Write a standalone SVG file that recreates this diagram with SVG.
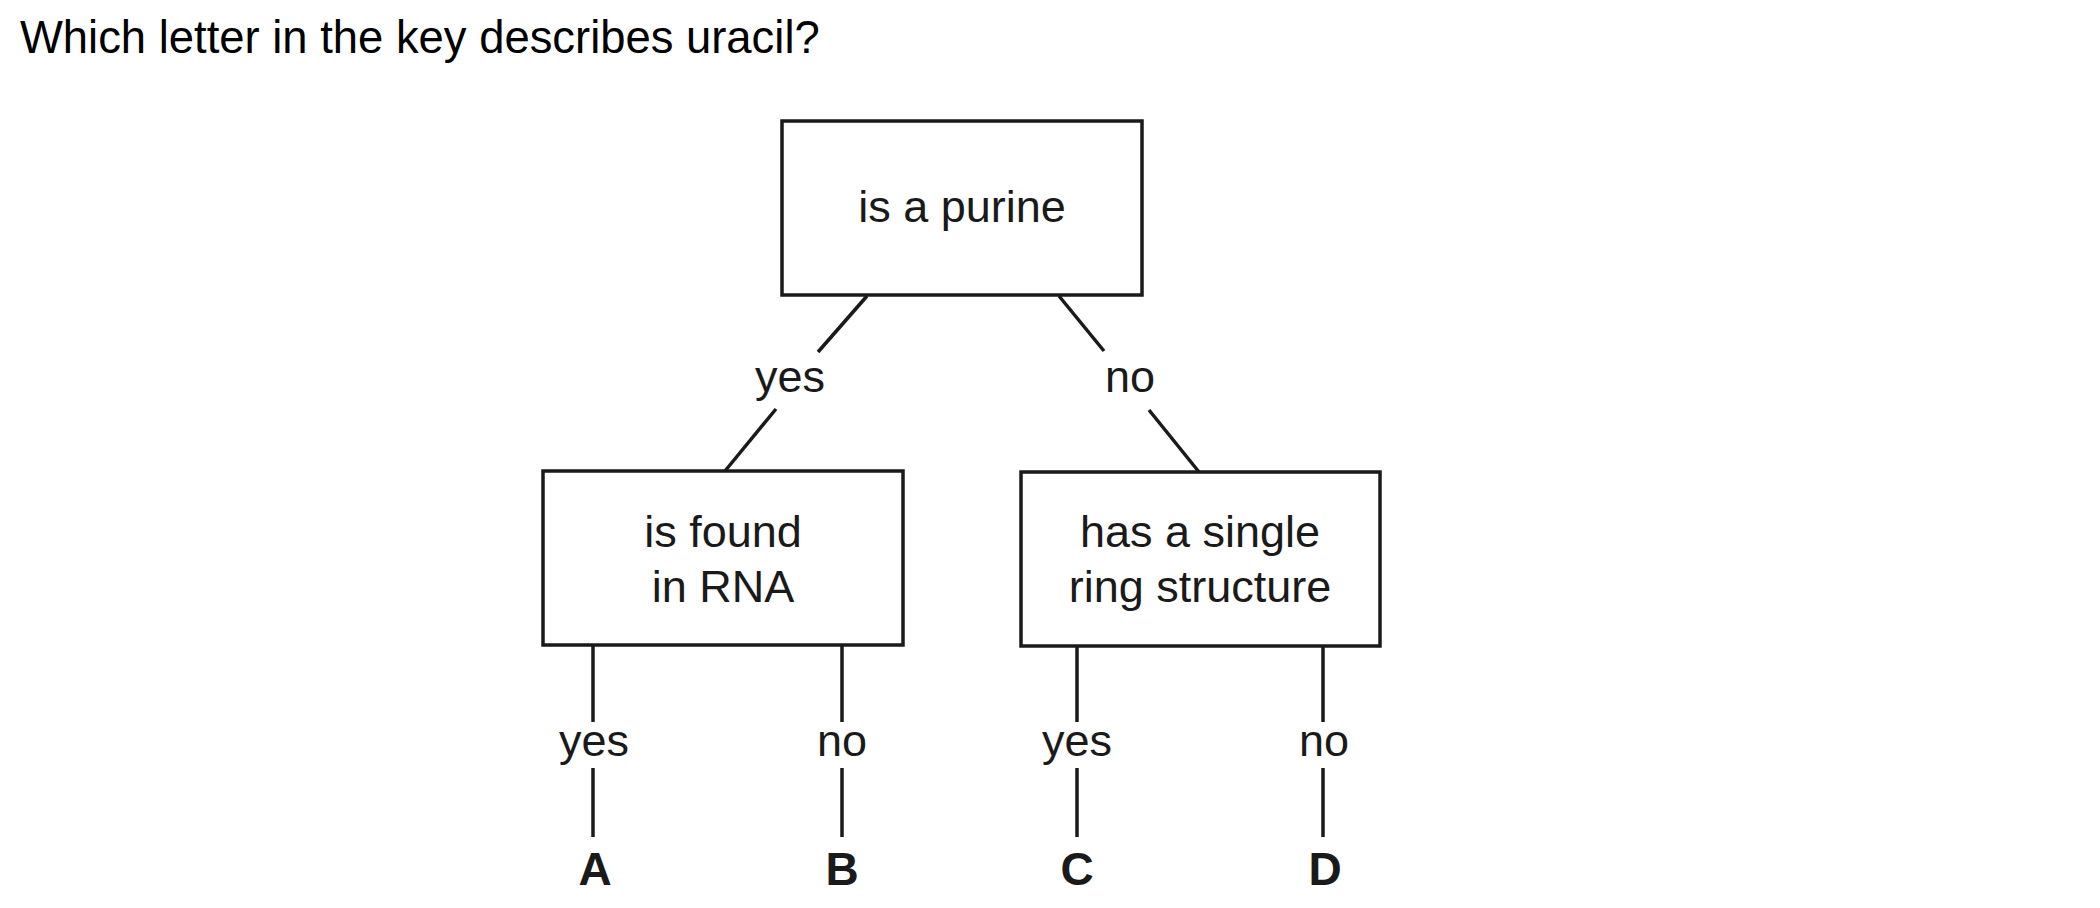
<svg xmlns="http://www.w3.org/2000/svg" width="2100" height="908" viewBox="0 0 2100 908">
<style>
text{font-family:"Liberation Sans",Arial,sans-serif;font-size:45px;fill:#1a1a1a}
.c{text-anchor:middle}
.b{font-weight:bold;font-size:46px}
.t{font-size:45.4px;fill:#000}
.box{fill:none;stroke:#1a1a1a;stroke-width:3.5}
.ln{stroke:#1a1a1a;stroke-width:3.5;fill:none}
</style>
<rect width="2100" height="908" fill="#fff"/>
<text id="title" class="t" x="20" y="53">Which letter in the key describes uracil?</text>
<g id="connectors">
<line class="ln" x1="867" y1="296" x2="818" y2="352"/>
<line class="ln" x1="776" y1="409" x2="725" y2="471"/>
<line class="ln" x1="1059" y1="296" x2="1104" y2="351"/>
<line class="ln" x1="1149" y1="410" x2="1199" y2="472"/>
<line class="ln" x1="593" y1="645" x2="593" y2="722"/>
<line class="ln" x1="593" y1="768" x2="593" y2="837"/>
<line class="ln" x1="842" y1="645" x2="842" y2="722"/>
<line class="ln" x1="842" y1="768" x2="842" y2="837"/>
<line class="ln" x1="1077" y1="646" x2="1077" y2="722"/>
<line class="ln" x1="1077" y1="768" x2="1077" y2="837"/>
<line class="ln" x1="1323" y1="646" x2="1323" y2="722"/>
<line class="ln" x1="1323" y1="768" x2="1323" y2="837"/>
<text class="c" x="790" y="392">yes</text>
<text class="c" x="1130" y="392">no</text>
<text class="c" x="594" y="756">yes</text>
<text class="c" x="842" y="756">no</text>
<text class="c" x="1077" y="756">yes</text>
<text class="c" x="1324" y="756">no</text>
</g>
<g id="n-purine">
<rect class="box" x="782" y="121" width="360" height="174"/>
<text class="c" x="962" y="222">is a purine</text>
</g>
<g id="n-rna">
<rect class="box" x="543" y="471" width="360" height="174"/>
<text class="c" x="723" y="547">is found</text>
<text class="c" x="723" y="602">in RNA</text>
</g>
<g id="n-ring">
<rect class="box" x="1021" y="472" width="359" height="174"/>
<text class="c" x="1200" y="547">has a single</text>
<text class="c" x="1200" y="602">ring structure</text>
</g>
<g id="n-A"><text class="c b" x="595" y="885">A</text></g>
<g id="n-B"><text class="c b" x="842" y="885">B</text></g>
<g id="n-C"><text class="c b" x="1077" y="885">C</text></g>
<g id="n-D"><text class="c b" x="1325" y="885">D</text></g>
</svg>
